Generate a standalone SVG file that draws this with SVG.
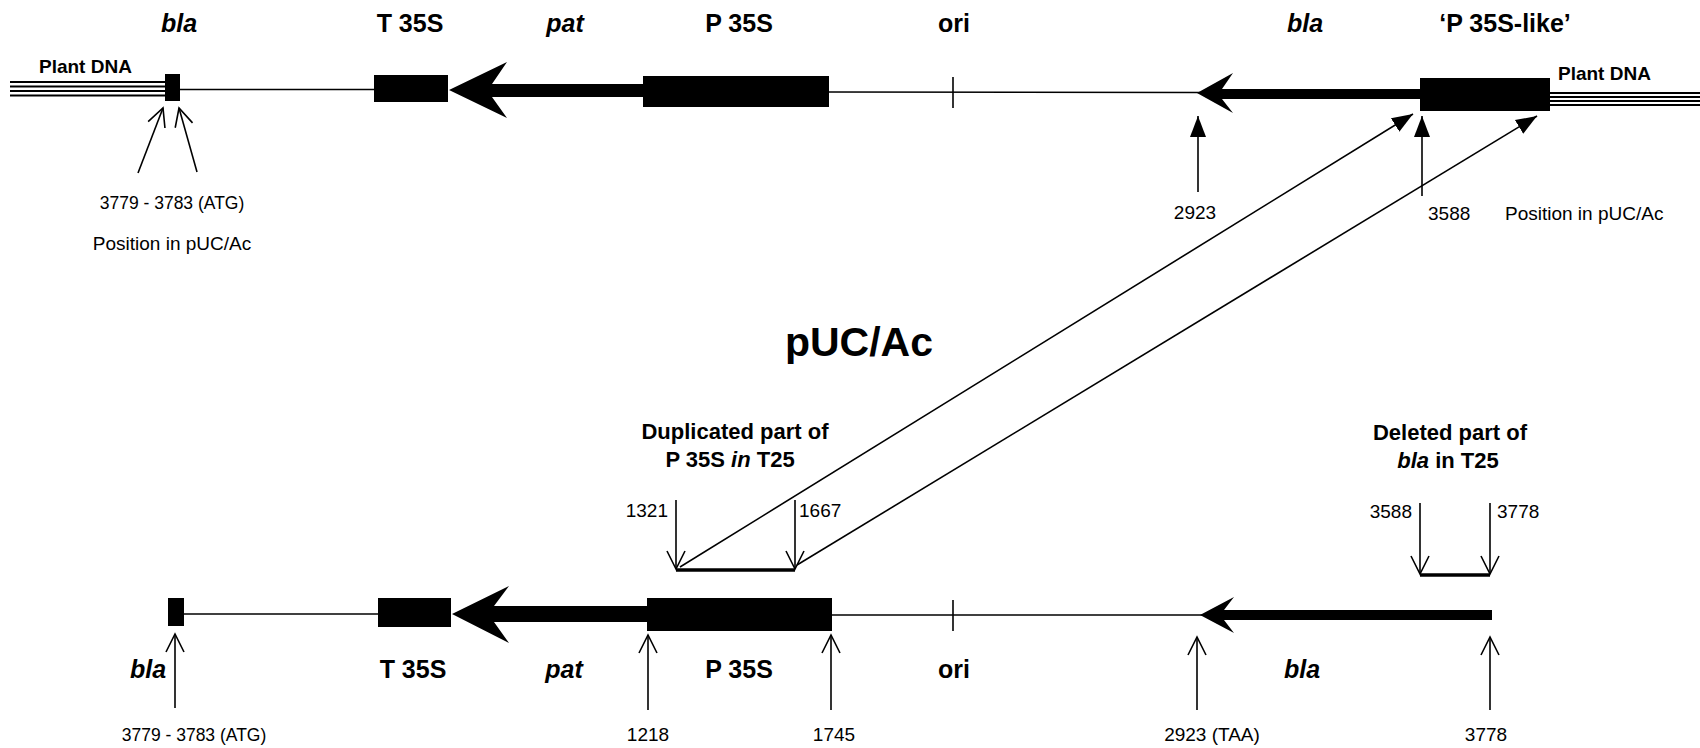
<svg xmlns="http://www.w3.org/2000/svg" width="1700" height="748" viewBox="0 0 1700 748">
<style>
.g{font-family:"Liberation Sans",Arial,sans-serif;font-weight:bold;font-size:25px;fill:#000}
.gi{font-family:"Liberation Sans",Arial,sans-serif;font-weight:bold;font-style:italic;font-size:25px;fill:#000}
.sm{font-family:"Liberation Sans",Arial,sans-serif;font-size:19px;fill:#000}
.atg{font-family:"Liberation Sans",Arial,sans-serif;font-size:17.5px;fill:#000}
.pd{font-family:"Liberation Sans",Arial,sans-serif;font-weight:bold;font-size:19px;fill:#000}
.sub{font-family:"Liberation Sans",Arial,sans-serif;font-weight:bold;font-size:22px;fill:#000}
.ttl{font-family:"Liberation Sans",Arial,sans-serif;font-weight:bold;font-size:41px;fill:#000}
.thin{stroke:#000;stroke-width:1.6;fill:none}
.dna{stroke:#000;stroke-width:1.8;fill:none}
.box{fill:#000}
.oa{stroke:#000;stroke-width:1.6;fill:none;marker-end:url(#open)}
.fa{stroke:#000;stroke-width:1.6;fill:none;marker-end:url(#fill)}
.br{stroke:#000;stroke-width:3.5;fill:none}
</style>
<defs>
<marker id="open" markerUnits="userSpaceOnUse" markerWidth="22" markerHeight="22" viewBox="0 0 22 22" refX="20" refY="11" orient="auto">
<path d="M2,2 L20,11 L2,20" fill="none" stroke="#000" stroke-width="1.6"/>
</marker>
<marker id="fill" markerUnits="userSpaceOnUse" markerWidth="22" markerHeight="20" viewBox="0 0 22 20" refX="21" refY="10" orient="auto">
<path d="M0,2 L21,10 L0,18 Z" fill="#000"/>
</marker>
</defs>

<g id="top-construct">
<g id="top-plant-dna-left">
<line class="dna" x1="10" y1="82" x2="166" y2="82"/>
<line class="dna" x1="10" y1="86.5" x2="166" y2="86.5"/>
<line class="dna" x1="10" y1="91" x2="166" y2="91"/>
<line class="dna" x1="10" y1="95.5" x2="166" y2="95.5"/>
<text class="pd" x="39" y="73">Plant DNA</text>
</g>
<g id="top-bla-atg">
<rect class="box" x="165" y="74" width="15" height="27"/>
<text class="gi" x="179" y="32" text-anchor="middle">bla</text>
</g>
<line class="thin" x1="180" y1="89.5" x2="376" y2="89.5"/>
<g id="top-t35s">
<rect class="box" x="374" y="75" width="74" height="27"/>
<text class="g" x="410" y="32" text-anchor="middle">T 35S</text>
</g>
<g id="top-pat">
<path class="box" d="M449,90 L507,62 L492,84 L645,84 L645,97 L492,97 L507,118 Z"/>
<text class="gi" x="565" y="32" text-anchor="middle">pat</text>
</g>
<g id="top-p35s">
<rect class="box" x="643" y="76" width="186" height="31"/>
<text class="g" x="739" y="32" text-anchor="middle">P 35S</text>
</g>
<line class="thin" x1="829" y1="92" x2="1200" y2="92.5"/>
<g id="top-ori">
<line class="thin" x1="953" y1="77" x2="953" y2="108"/>
<text class="g" x="954" y="32" text-anchor="middle">ori</text>
</g>
<g id="top-bla">
<path class="box" d="M1197,93 L1233,73 L1222,89 L1422,89 L1422,99 L1222,99 L1233,113 Z"/>
<text class="gi" x="1305" y="32" text-anchor="middle">bla</text>
</g>
<g id="top-p35s-like">
<rect class="box" x="1420" y="78" width="130" height="33"/>
<text class="g" x="1505" y="32" text-anchor="middle">‘P 35S-like’</text>
</g>
<g id="top-plant-dna-right">
<line class="dna" x1="1548" y1="93" x2="1700" y2="93"/>
<line class="dna" x1="1548" y1="97" x2="1700" y2="97"/>
<line class="dna" x1="1548" y1="101" x2="1700" y2="101"/>
<line class="dna" x1="1548" y1="105" x2="1700" y2="105"/>
<text class="pd" x="1558" y="80">Plant DNA</text>
</g>
<g id="top-positions">
<text class="atg" x="172" y="209" text-anchor="middle">3779 - 3783 (ATG)</text>
<text class="sm" x="172" y="250" text-anchor="middle">Position in pUC/Ac</text>
<text class="sm" x="1195" y="219" text-anchor="middle">2923</text>
<text class="sm" x="1428" y="220">3588</text>
<text class="sm" x="1505" y="220">Position in pUC/Ac</text>
</g>
</g>

<text id="title" class="ttl" x="859" y="356" text-anchor="middle">pUC/Ac</text>

<g id="duplicated-label">
<text class="sub" x="735" y="439" text-anchor="middle">Duplicated part of</text>
<text class="sub" x="730" y="467" text-anchor="middle">P 35S <tspan font-style="italic">in</tspan> T25</text>
<text class="sm" x="668" y="517" text-anchor="end">1321</text>
<text class="sm" x="799" y="517">1667</text>
</g>
<g id="deleted-label">
<text class="sub" x="1450" y="440" text-anchor="middle">Deleted part of</text>
<text class="sub" x="1448" y="468" text-anchor="middle"><tspan font-style="italic">bla</tspan> in T25</text>
<text class="sm" x="1412" y="518" text-anchor="end">3588</text>
<text class="sm" x="1497" y="518">3778</text>
</g>

<g id="bottom-construct">
<g id="bot-bla-atg">
<rect class="box" x="168" y="598" width="16" height="28"/>
<text class="gi" x="148" y="678" text-anchor="middle">bla</text>
</g>
<line class="thin" x1="184" y1="614" x2="380" y2="614"/>
<g id="bot-t35s">
<rect class="box" x="378" y="598" width="73" height="29"/>
<text class="g" x="413" y="678" text-anchor="middle">T 35S</text>
</g>
<g id="bot-pat">
<path class="box" d="M452,614 L509,586 L494,606 L649,606 L649,622 L494,622 L509,643 Z"/>
<text class="gi" x="564" y="678" text-anchor="middle">pat</text>
</g>
<g id="bot-p35s">
<rect class="box" x="647" y="598" width="185" height="33"/>
<text class="g" x="739" y="678" text-anchor="middle">P 35S</text>
</g>
<line class="thin" x1="832" y1="615" x2="1203" y2="615"/>
<g id="bot-ori">
<line class="thin" x1="953" y1="600" x2="953" y2="631"/>
<text class="g" x="954" y="678" text-anchor="middle">ori</text>
</g>
<g id="bot-bla">
<path class="box" d="M1200,615 L1234,597 L1224,610 L1492,610 L1492,620 L1224,620 L1234,633 Z"/>
<text class="gi" x="1302" y="678" text-anchor="middle">bla</text>
</g>
<g id="bot-positions">
<text class="atg" x="194" y="741" text-anchor="middle">3779 - 3783 (ATG)</text>
<text class="sm" x="648" y="741" text-anchor="middle">1218</text>
<text class="sm" x="834" y="741" text-anchor="middle">1745</text>
<text class="sm" x="1212" y="741" text-anchor="middle">2923 (TAA)</text>
<text class="sm" x="1486" y="741" text-anchor="middle">3778</text>
</g>
</g>

<g id="connectors">
<line class="oa" x1="138" y1="173" x2="163" y2="108"/>
<line class="oa" x1="197" y1="172" x2="179" y2="108"/>
<line class="fa" x1="1198" y1="192" x2="1198" y2="116"/>
<line class="fa" x1="1422" y1="196" x2="1422" y2="116"/>
<line class="fa" x1="680" y1="567" x2="1413" y2="114"/>
<line class="fa" x1="797" y1="565" x2="1537" y2="116"/>
<line class="oa" x1="676" y1="500" x2="676" y2="569"/>
<line class="oa" x1="795" y1="500" x2="795" y2="569"/>
<line class="br" x1="676" y1="570" x2="795" y2="570"/>
<line class="oa" x1="1420" y1="503" x2="1420" y2="574"/>
<line class="oa" x1="1490" y1="503" x2="1490" y2="574"/>
<line class="br" x1="1420" y1="575" x2="1490" y2="575"/>
<line class="oa" x1="175" y1="708" x2="175" y2="634"/>
<line class="oa" x1="648" y1="710" x2="648" y2="635"/>
<line class="oa" x1="831" y1="710" x2="831" y2="635"/>
<line class="oa" x1="1197" y1="710" x2="1197" y2="637"/>
<line class="oa" x1="1490" y1="710" x2="1490" y2="637"/>
</g>
</svg>
